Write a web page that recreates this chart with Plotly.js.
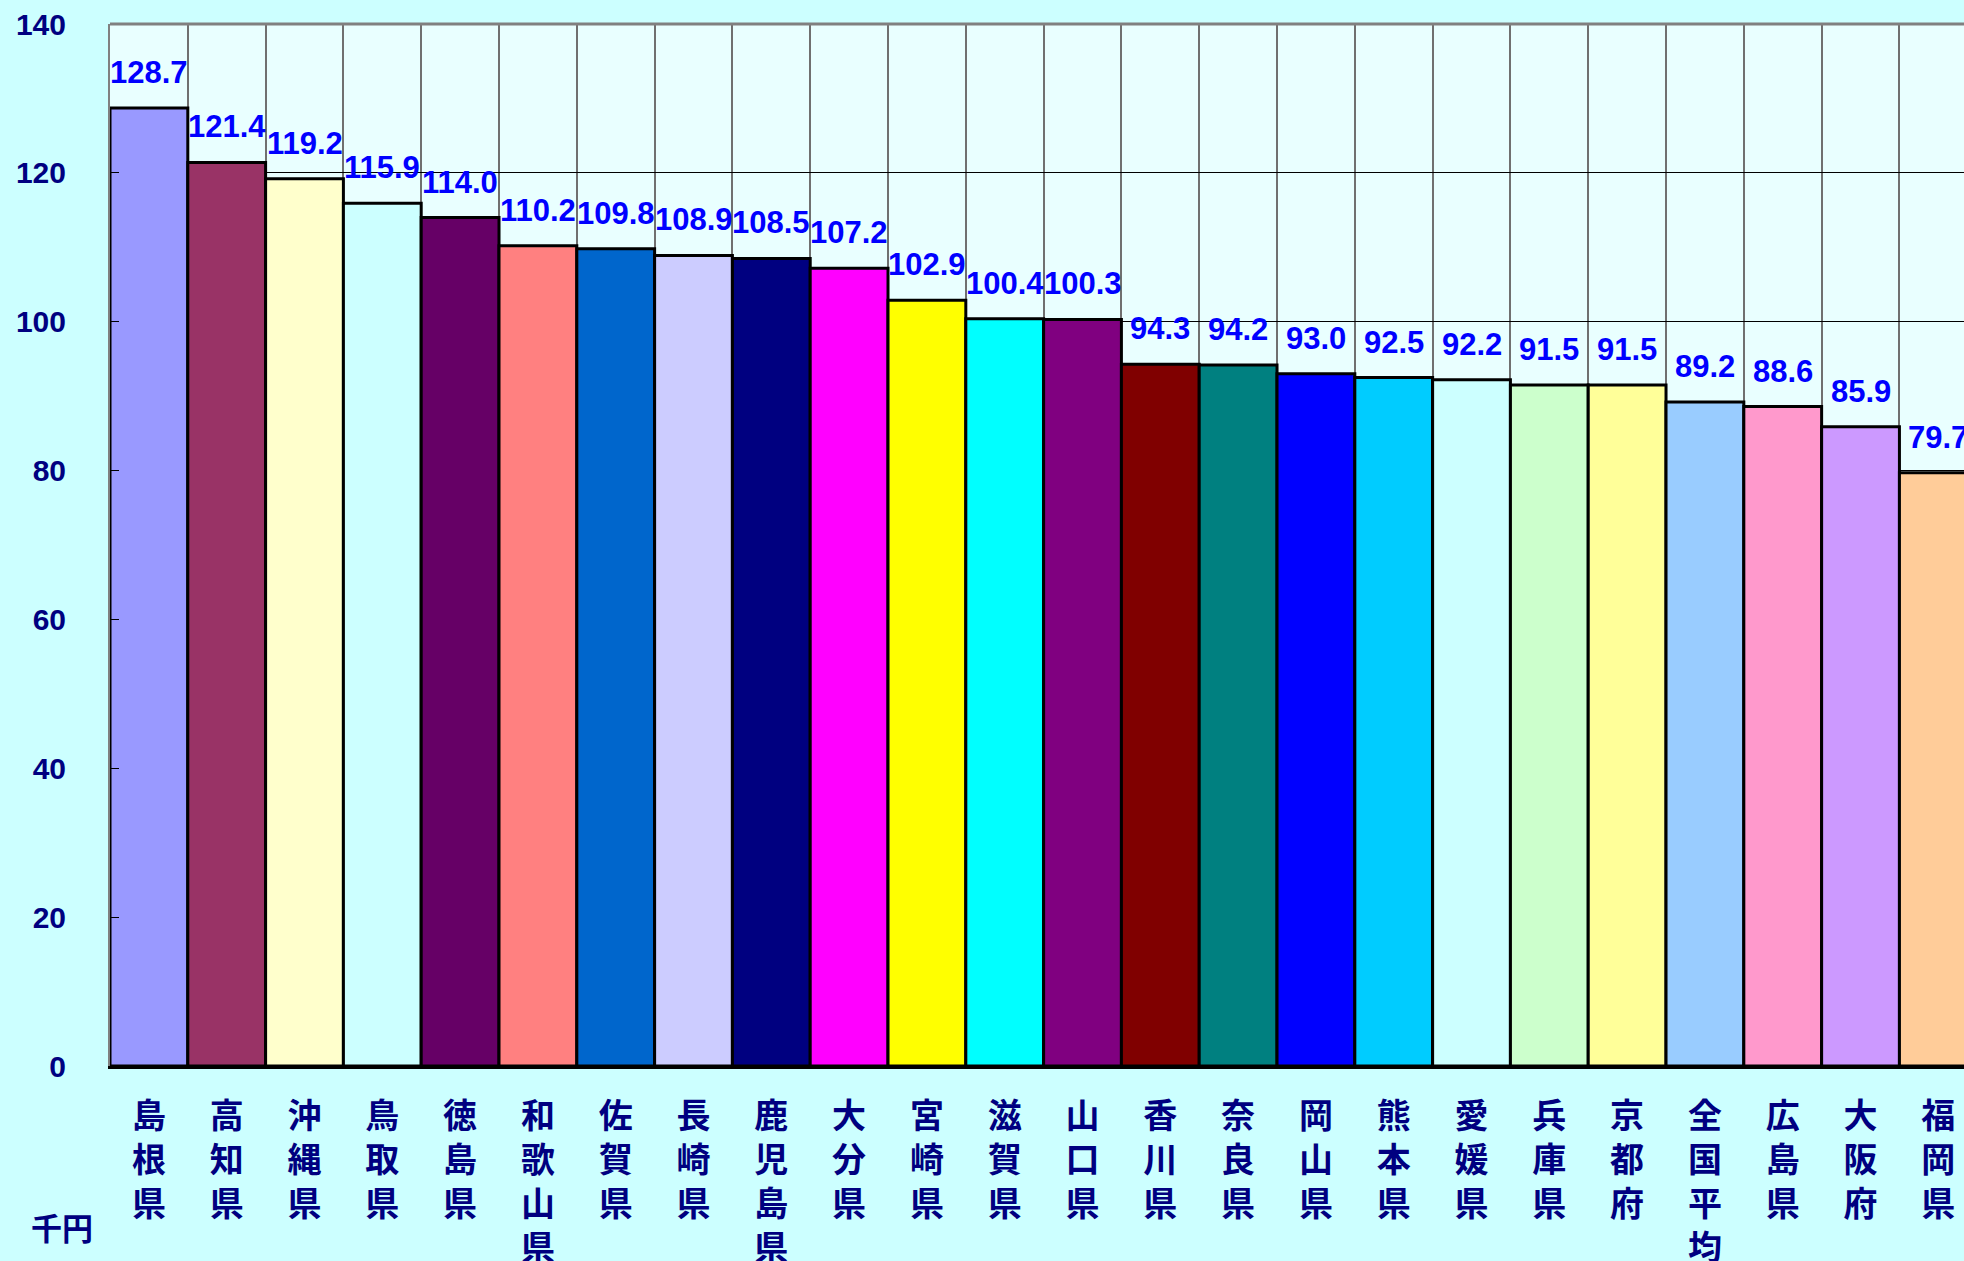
<!DOCTYPE html>
<html>
<head>
<meta charset="utf-8">
<script src="https://cdn.plot.ly/plotly-3.0.1.min.js"></script>
<style>html,body{margin:0;padding:0;background:#CCFFFF;}</style>
</head>
<body>
<div id="chart" style="width:1964px;height:1261px;"></div>
<script>
const categories = ["島根県","高知県","沖縄県","鳥取県","徳島県","和歌山県","佐賀県","長崎県","鹿児島県","大分県","宮崎県","滋賀県","山口県","香川県","奈良県","岡山県","熊本県","愛媛県","兵庫県","京都府","全国平均","広島県","大阪府","福岡県"];
const values = [128.7,121.4,119.2,115.9,114.0,110.2,109.8,108.9,108.5,107.2,102.9,100.4,100.3,94.3,94.2,93.0,92.5,92.2,91.5,91.5,89.2,88.6,85.9,79.7];
const barColors = ["#9999FF","#993366","#FFFFCC","#CCFFFF","#660066","#FF8080","#0066CC","#CCCCFF","#000080","#FF00FF","#FFFF00","#00FFFF","#800080","#800000","#008080","#0000FF","#00CCFF","#CCFFFF","#CCFFCC","#FFFF99","#99CCFF","#FF99CC","#CC99FF","#FFCC99"];
const yTicks = [0,20,40,60,80,100,120,140];
const unitLabel = "千円";

const numFont = "'Liberation Sans', Arial, sans-serif";
const cjkFont = "'Noto Sans CJK JP', 'Noto Sans CJK SC', sans-serif";

const tickText = categories.map(c => c.split('').join('<br>'));

const trace = {
  type: 'bar',
  x: categories,
  y: values,
  marker: {color: barColors, line: {color: '#000000', width: 3}},
  hoverinfo: 'x+y'
};

const valueAnnotations = categories.map((c, i) => ({
  x: c, y: values[i], xref: 'x', yref: 'y',
  text: values[i].toFixed(1),
  showarrow: false, xanchor: 'center', yanchor: 'bottom', yshift: 16,
  font: {family: numFont, size: 31, color: '#0000FF', weight: 'bold'}
}));

const layout = {
  width: 1964, height: 1261,
  paper_bgcolor: '#CCFFFF',
  plot_bgcolor: '#E9FFFF',
  margin: {l: 110, r: 0, t: 24, b: 195},
  bargap: 0,
  showlegend: false,
  xaxis: {
    type: 'category',
    range: [-0.5, 23.33],
    tickson: 'boundaries',
    showgrid: true, gridcolor: '#707070', gridwidth: 2,
    ticks: '',
    tickvals: categories, ticktext: tickText,
    tickfont: {family: cjkFont, size: 34, color: '#000080', weight: 'bold'},
    ticklabelstandoff: 18,
    showline: true, linecolor: '#000000', linewidth: 3,
    zeroline: false, fixedrange: true
  },
  yaxis: {
    range: [0, 140],
    tickvals: yTicks,
    ticks: 'inside', ticklen: 9, tickcolor: '#000000', tickwidth: 1,
    showgrid: true, gridcolor: '#000000', gridwidth: 1,
    showline: true, linecolor: '#808080', linewidth: 2,
    zeroline: false,
    tickfont: {family: numFont, size: 30, color: '#000080', weight: 'bold'},
    ticklabelstandoff: 36,
    fixedrange: true
  },
  shapes: [{
    type: 'line', xref: 'paper', yref: 'paper', x0: 0, x1: 1, y0: 1, y1: 1,
    line: {color: '#808080', width: 3}
  }],
  annotations: valueAnnotations.concat([{
    text: unitLabel, xref: 'paper', yref: 'paper', x: -0.026, y: -0.154,
    xanchor: 'center', yanchor: 'middle', showarrow: false,
    font: {family: cjkFont, size: 31, color: '#000080', weight: 'bold'}
  }])
};

Plotly.newPlot('chart', [trace], layout, {displayModeBar: false, staticPlot: true});
</script>
</body>
</html>
